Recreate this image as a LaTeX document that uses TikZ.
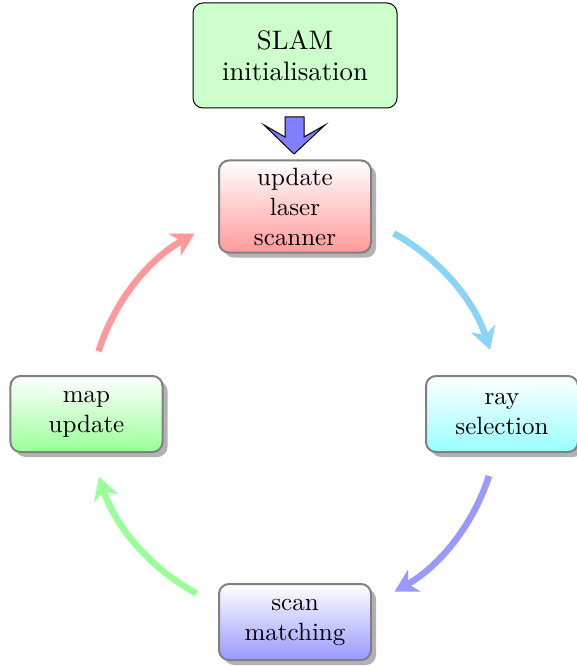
\documentclass[tikz,border=0pt]{standalone}
\usetikzlibrary{arrows.meta,shadows,shapes.misc}
\definecolor{skyarrow}{RGB}{138,212,245}
\tikzset{
  cyclebox/.style={rectangle, rounded corners=4pt, draw=black!50, line width=0.8pt,
    minimum width=60.8pt, minimum height=30.4pt, text width=55pt, align=center,
    inner xsep=2.9pt, inner ysep=2.9pt,
    font=\fontsize{10}{12}\selectfont,
    drop shadow={shadow xshift=2pt, shadow yshift=-2pt, fill=black!30, opacity=1}},
  initbox/.style={rectangle, rounded corners=4pt, draw=black, line width=0.4pt,
    fill=green!20, minimum width=81.6pt, minimum height=42pt, align=center,
    font=\fontsize{10.7}{12.4}\selectfont},
  cyclearrow/.style={line width=2.6pt, -{Stealth[length=9pt,width=10pt,inset=2.8pt]}},
}
\begin{document}
\begin{tikzpicture}[x=0.4pt,y=-0.4pt]
\useasboundingbox (0,0) rectangle (576,666);
\node[initbox] (init) at (295,55.5) {SLAM\\initialisation};
\node[cyclebox, top color=white, bottom color=red!40] (upd) at (295,206.5) {update\\laser\\scanner};
\node[cyclebox, top color=white, bottom color=cyan!40] (ray) at (502,414) {ray\\selection};
\node[cyclebox, top color=white, bottom color=blue!40] (scan) at (295,622) {scan\\matching};
\node[cyclebox, top color=white, bottom color=green!40] (map) at (86.5,414) {map\\update};
% fat arrow
\draw[fill=blue!50, line width=0.4pt, line join=miter]
  (285,117) -- (304,117) -- (304,137) -- (325,125) -- (294,154) -- (264,125) -- (285,137) -- cycle;
% cycle arrows
\coordinate (s1) at (393.8,233.4);
\coordinate (s2) at (489.0,476.0);
\coordinate (s3) at (196.7,593.5);
\coordinate (s4) at (98.5,351.4);
\draw[cyclearrow, skyarrow] (s1) arc[start angle=-61.2, end angle=-17.9, radius=205];
\draw[cyclearrow, blue!40] (s2) arc[start angle=17.9, end angle=60.6, radius=205];
\draw[cyclearrow, green!40] (s3) arc[start angle=118.3, end angle=161.9, radius=205];
\draw[cyclearrow, red!40] (s4) arc[start angle=197.5, end angle=241, radius=205];
\end{tikzpicture}
\end{document}
